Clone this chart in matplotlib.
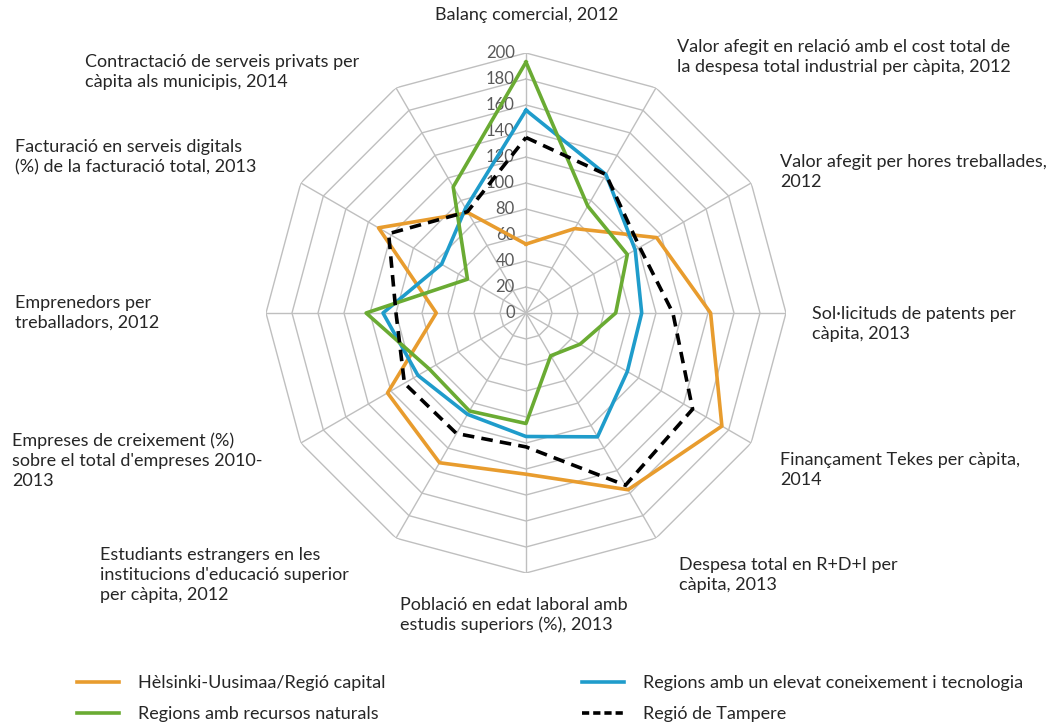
import numpy as np
import matplotlib
matplotlib.use("Agg")
import matplotlib.pyplot as plt
from matplotlib.lines import Line2D

plt.rcParams["font.family"] = ["Lato", "DejaVu Sans"]

categories = [
    "Balanç comercial, 2012",
    "Valor afegit en relació amb el cost total de\nla despesa total industrial per càpita, 2012",
    "Valor afegit per hores treballades,\n2012",
    "Sol·licituds de patents per\ncàpita, 2013",
    "Finançament Tekes per càpita,\n2014",
    "Despesa total en R+D+I per\ncàpita, 2013",
    "Població en edat laboral amb\nestudis superiors (%), 2013",
    "Estudiants estrangers en les\ninstitucions d'educació superior\nper càpita, 2012",
    "Empreses de creixement (%)\nsobre el total d'empreses 2010-\n2013",
    "Emprenedors per\ntreballadors, 2012",
    "Facturació en serveis digitals\n(%) de la facturació total, 2013",
    "Contractació de serveis privats per\ncàpita als municipis, 2014",
]

helsinki = [53, 75, 116, 142, 174, 157, 124, 133, 123, 69, 131, 89]
tecnologia = [156, 123, 97, 89, 90, 110, 95, 90, 96, 110, 75, 93]
recursos = [193, 95, 90, 69, 48, 38, 85, 87, 86, 123, 52, 112]
tampere = [135, 123, 101, 113, 148, 153, 103, 107, 108, 100, 122, 90]

ticks = [0, 20, 40, 60, 80, 100, 120, 140, 160, 180, 200]

W, H = 1063, 723
fig = plt.figure(figsize=(W / 100, H / 100), dpi=100)

cx, cy, R = 526, 313, 260
ax = fig.add_axes([(cx - R) / W, (H - cy - R) / H, 2 * R / W, 2 * R / H], projection="polar")
ax.set_theta_offset(np.pi / 2)
ax.set_theta_direction(-1)
ax.set_ylim(0, 200)
ax.set_axis_off()

n = len(categories)
theta = np.linspace(0, 2 * np.pi, n, endpoint=False)
theta_c = np.append(theta, theta[0])

grid_col = "#bfbfbf"
for r in ticks[1:]:
    ax.plot(theta_c, [r] * (n + 1), color=grid_col, lw=1.0, zorder=1)
for t in theta:
    ax.plot([t, t], [0, 200], color=grid_col, lw=1.0, zorder=1)

for r in ticks:
    ax.annotate(str(r), (0, r), xytext=(-8, 0), textcoords="offset points",
                ha="right", va="center", fontsize=12, color="#595959", zorder=2)

def closed(v):
    return list(v) + [v[0]]

lw = 2.6
ax.plot(theta_c, closed(helsinki), color="#e89c2e", lw=lw, zorder=3)
ax.plot(theta_c, closed(tecnologia), color="#1f9ccb", lw=lw, zorder=4)
ax.plot(theta_c, closed(recursos), color="#6aab33", lw=lw, zorder=5)
ax.plot(theta_c, closed(tampere), color="black", lw=lw, dashes=(3.2, 2.0), zorder=6)

# category labels: (x, y of text centre in pixels, alignment)
label_pos = [
    (527, 15, "center"),
    (677, 57, "left"),
    (780, 172, "left"),
    (812, 324, "left"),
    (780, 470, "left"),
    (679, 575, "left"),
    (400, 615, "left"),
    (100, 575, "left"),
    (12, 461, "left"),
    (15, 313, "left"),
    (15, 157, "left"),
    (85, 72, "left"),
]
for lab, (x, y, ha) in zip(categories, label_pos):
    fig.text(x / W, 1 - y / H, lab, ha=ha, va="center", fontsize=13,
             color="#262626", linespacing=1.3)

h_or = Line2D([], [], color="#e89c2e", lw=lw)
h_gr = Line2D([], [], color="#6aab33", lw=lw)
h_bl = Line2D([], [], color="#1f9ccb", lw=lw)
h_bk = Line2D([], [], color="black", lw=lw, dashes=(2.0, 1.1))

leg_kw = dict(frameon=False, fontsize=13, handlelength=2.3, handletextpad=1.1,
              labelspacing=0.85, borderpad=0, labelcolor="#262626")
fig.legend([h_or, h_gr], ["Hèlsinki-Uusimaa/Regió capital", "Regions amb recursos naturals"],
           loc="upper left", bbox_to_anchor=(68 / W, 1 - 666 / H), **leg_kw)
fig.legend([h_bl, h_bk], ["Regions amb un elevat coneixement i tecnologia", "Regió de Tampere"],
           loc="upper left", bbox_to_anchor=(573 / W, 1 - 666 / H), **leg_kw)

fig.savefig("out.png", dpi=100)
